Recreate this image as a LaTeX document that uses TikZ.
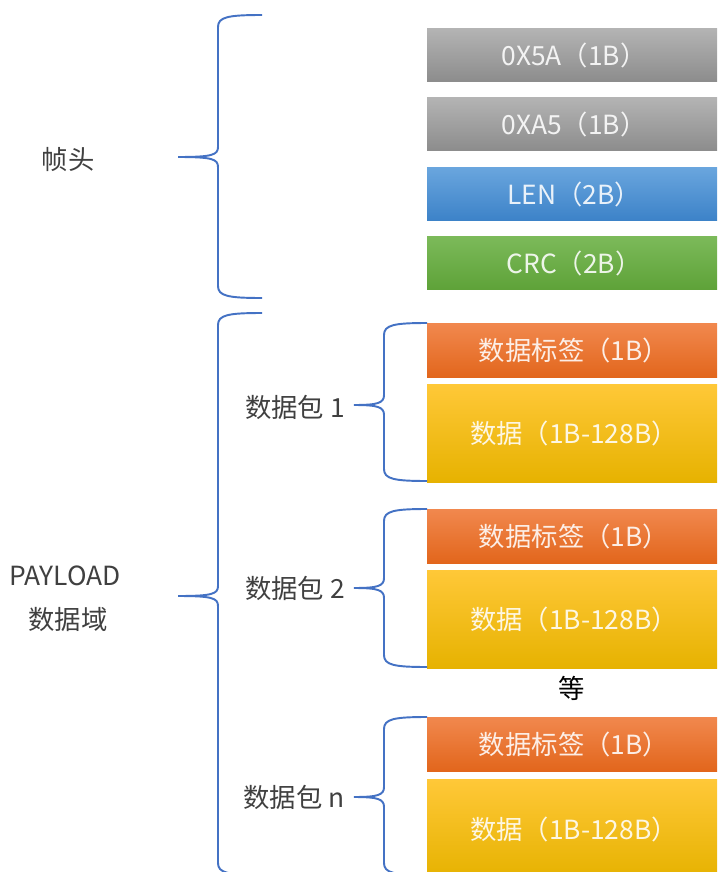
\documentclass[tikz,border=0pt]{standalone}
\usepackage{fontspec}
\setmainfont{Noto Sans CJK SC}

\definecolor{bracecol}{RGB}{68,114,196}
\definecolor{labelcol}{RGB}{64,64,64}

\tikzset{
  field/.style={minimum width=5.88cm, inner sep=0pt, text=white, text opacity=0.88, font=\fontsize{15pt}{18pt}\selectfont},
  fieldlow/.style={field, minimum height=1.08cm},
  fieldhigh/.style={field, minimum height=1.98cm},
  grayfill/.style={top color={rgb,255:red,180;green,180;blue,180}, bottom color={rgb,255:red,140;green,140;blue,140}},
  bluefill/.style={top color={rgb,255:red,106;green,166;blue,222}, bottom color={rgb,255:red,60;green,130;blue,200}},
  greenfill/.style={top color={rgb,255:red,124;green,186;blue,90}, bottom color={rgb,255:red,94;green,162;blue,56}},
  orangefill/.style={top color={rgb,255:red,241;green,136;blue,78}, bottom color={rgb,255:red,226;green,102;blue,28}},
  yellowfill/.style={top color={rgb,255:red,255;green,200;blue,56}, bottom color={rgb,255:red,230;green,178;blue,0}},
  sidetext/.style={inner sep=0pt, text=labelcol, font=\fontsize{15pt}{18pt}\selectfont},
  bracket/.style={draw=bracecol, line width=1.1pt},
}

% end x, bar x, tip x, top y, tip y, bottom y
\newcommand{\curlybrace}[6]{%
  \draw[bracket] (#1,#4) .. controls ({#2+10},#4) and (#2,{#4+2}) .. (#2,{#4+12})
    -- (#2,{#5-10}) .. controls (#2,{#5-2}) and ({#2-6},#5) .. (#3,#5)
    .. controls ({#2-6},#5) and (#2,{#5+2}) .. (#2,{#5+10})
    -- (#2,{#6-12}) .. controls (#2,{#6-2}) and ({#2+10},#6) .. (#1,#6);}

\begin{document}
\begin{tikzpicture}[x=0.02cm,y=-0.02cm]

\clip (0,0) rectangle (717,872);

% frame header
\node (HeadA) at (574,55) [fieldlow,grayfill]{0X5A（1B）};
\node (HeadB) at (574,124) [fieldlow,grayfill]{0XA5（1B）};
\node (Len) at (574,194) [fieldlow,bluefill]{LEN（2B）};
\node (Crc) at (574,263) [fieldlow,greenfill]{CRC（2B）};

% packets
\node (TagOne) at (574,350.5) [fieldlow,orangefill]{数据标签（1B）};
\node (DataOne) at (574,433.5) [fieldhigh,yellowfill]{数据（1B-128B）};
\node (TagTwo) at (574,536) [fieldlow,orangefill]{数据标签（1B）};
\node (DataTwo) at (574,619.5) [fieldhigh,yellowfill]{数据（1B-128B）};
\node (Etc) at (572,688) [sidetext,text=black]{等};
\node (TagN) at (574,744) [fieldlow,orangefill]{数据标签（1B）};
\node (DataN) at (574,829) [fieldhigh,yellowfill]{数据（1B-128B）};

% left labels
\node (Header) at (68,160) [sidetext]{帧头};
\node (Payload) at (65,576) [sidetext]{PAYLOAD};
\node (Domain) at (68,620) [sidetext]{数据域};
\node (PackOne) at (345,407) [sidetext,anchor=east]{数据包 1};
\node (PackTwo) at (345,588) [sidetext,anchor=east]{数据包 2};
\node (PackN) at (345,797) [sidetext,anchor=east]{数据包 n};

\curlybrace{262}{218}{178}{15}{157}{298}
\curlybrace{262}{218}{178}{313}{596}{875}
\curlybrace{427}{384}{354}{323}{405}{481}
\curlybrace{427}{384}{354}{509}{588}{667}
\curlybrace{427}{384}{354}{717}{797}{875}

\end{tikzpicture}
\end{document}
